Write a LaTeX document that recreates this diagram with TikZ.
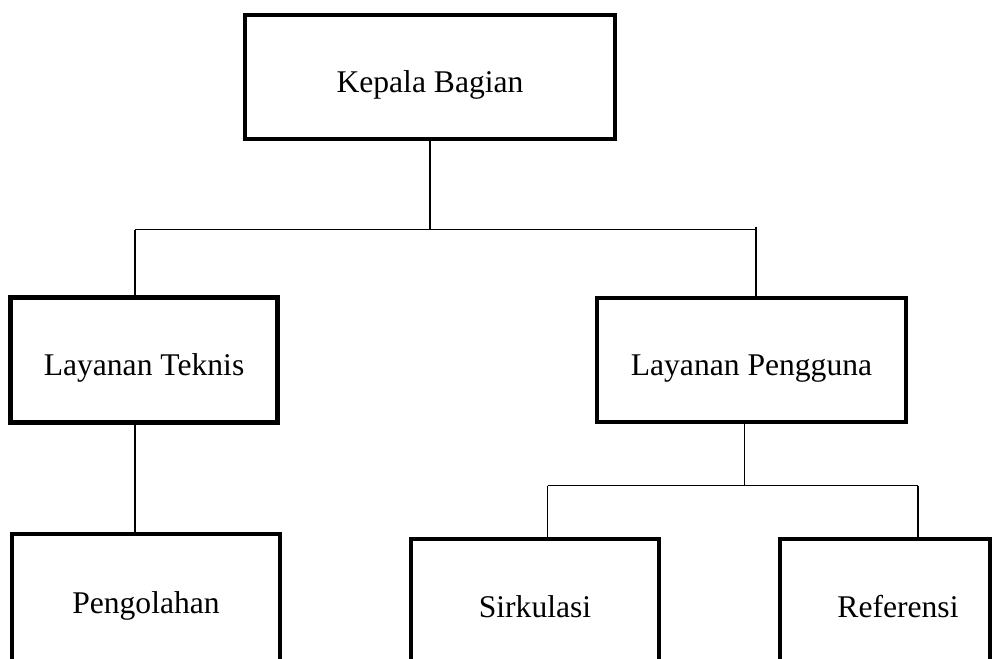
\documentclass[tikz,border=0pt]{standalone}
\usepackage{fontspec}
\setmainfont{Liberation Serif}
\def\px{0.75pt}
\tikzset{
  orgbox/.style={draw=black, line width=3.6pt, outer sep=0pt, inner sep=0pt,
    font=\fontsize{23.7pt}{28pt}\selectfont, text height=23.7pt, text depth=0pt},
  cutbox/.style={orgbox, text depth=27.3pt},
  link/.style={draw=black, line width=1.15pt}
}
\begin{document}
\begin{tikzpicture}[x=0.75pt, y=-0.75pt]
\useasboundingbox (0,0) rectangle (1008,658);
\clip (0,0) rectangle (1008,658);
% boxes
\node[orgbox, minimum width=370*\px, minimum height=124*\px] (kb) at (430,77) {Kepala Bagian};
\node[orgbox, minimum width=267*\px, minimum height=125*\px] (lt) at (144,360) {Layanan Teknis};
\node[orgbox, minimum width=309*\px, minimum height=124*\px] (lp) at (751.5,360) {Layanan Pengguna};
\node[cutbox, minimum width=268*\px, minimum height=166*\px, text depth=29.6pt] (pg) at (146,617) {Pengolahan};
\node[cutbox, minimum width=248*\px, minimum height=161*\px] (sk) at (535,619.5) {Sirkulasi};
\node[cutbox, minimum width=210*\px, minimum height=161*\px] (rf) at (885,619.5) {\hspace*{19.5pt}Referensi};
% junctions
\coordinate (j0) at (430,229.5);
\coordinate (jl) at (135,229.5);
\coordinate (jr) at (756,229.5);
\coordinate (jrt) at (756,226.5);
\coordinate (k0) at (744.5,485.5);
\coordinate (kl) at (547.7,485.5);
\coordinate (kr) at (918,485.5);
% connectors
\draw[link] (kb.south) -- (j0);
\draw[link] (jl) -- (jr);
\draw[link] (jl) -- (jl |- lt.north);
\draw[link] (jrt) -- (jrt |- lp.north);
\draw[link] (jl |- lt.south) -- (jl |- pg.north);
\draw[link] (k0 |- lp.south) -- (k0);
\draw[link] (kl) -- (kr);
\draw[link] (kl) -- (kl |- sk.north);
\draw[link] (kr) -- (kr |- rf.north);
\end{tikzpicture}
\end{document}
